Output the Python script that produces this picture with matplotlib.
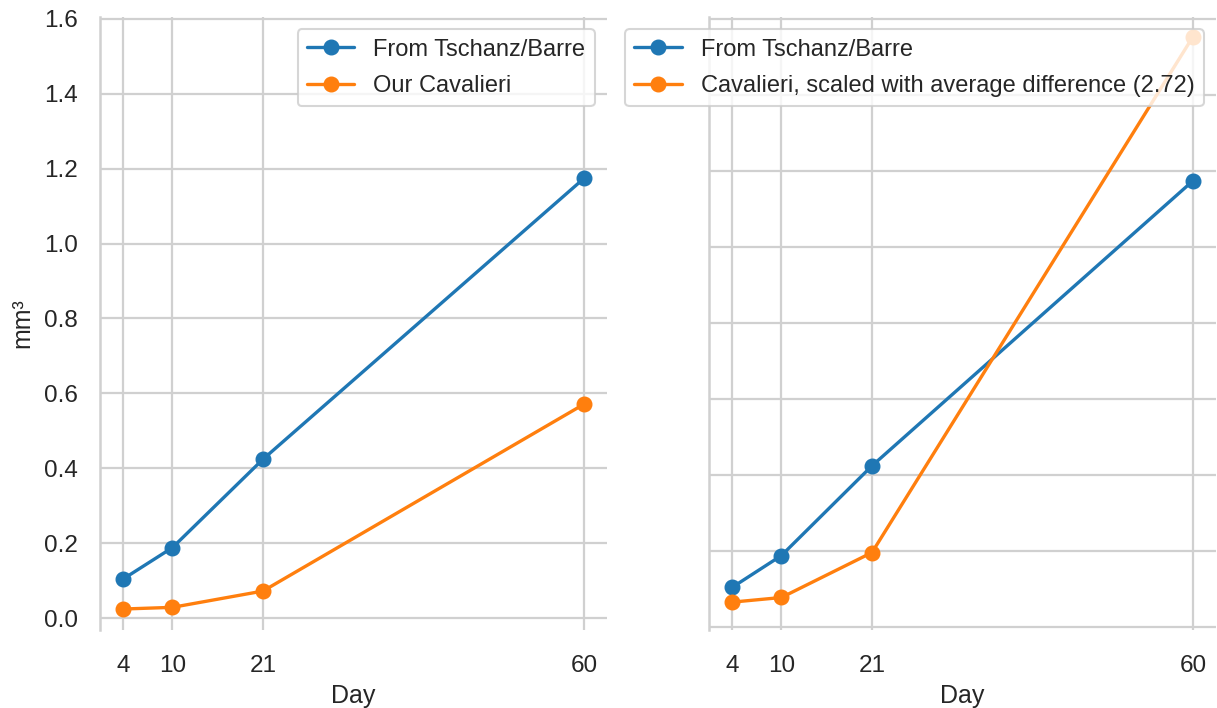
import numpy as np
import matplotlib
matplotlib.use('Agg')
import matplotlib.pyplot as plt
import seaborn as sns

# Volumen über die Zeit: Literaturwerte vs. eigene Cavalieri-Schätzung
days = np.array([4, 10, 21, 60])
tschanz = np.array([0.104, 0.188, 0.424, 1.174])
cavalieri = np.array([0.024, 0.0285, 0.072, 0.571])
avg_diff = 2.72

sns.set_theme(style='whitegrid', context='talk')
plt.rcParams['font.family'] = ['Liberation Sans', 'DejaVu Sans']
plt.rcParams['grid.color'] = '#d0d0d0'
plt.rcParams['axes.edgecolor'] = '#d0d0d0'

fig = plt.figure(figsize=(12.17, 7.08), dpi=100)
ax1 = fig.add_axes([100/1217, 1-630/708, 507/1217, 613/708])
ax2 = fig.add_axes([709/1217, 1-630/708, 507/1217, 613/708])

ax1.plot(days, tschanz, 'o-', color='tab:blue', lw=2.4, ms=10.5, label='From Tschanz/Barre')
ax1.plot(days, cavalieri, 'o-', color='tab:orange', lw=2.4, ms=10.5, label='Our Cavalieri')
ax1.set_ylim(-0.032, 1.605)
ax1.set_yticks(np.arange(0, 1.61, 0.2))
ax1.set_ylabel('mm³', fontsize=18, labelpad=7)

ax2.plot(days, tschanz, 'o-', color='tab:blue', lw=2.4, ms=10.5, label='From Tschanz/Barre')
ax2.plot(days, cavalieri*avg_diff, 'o-', color='tab:orange', lw=2.4, ms=10.5,
         label='Cavalieri, scaled with average difference (%.2f)' % avg_diff)
ax2.set_ylim(-0.008, 1.605)
ax2.set_yticks(np.arange(0, 1.61, 0.2))
ax2.set_yticklabels([])

for ax in (ax1, ax2):
    ax.set_xticks(days)
    ax.set_xlim(1.2, 62.8)
    ax.set_xlabel('Day', fontsize=18, labelpad=5)
    ax.tick_params(axis='x', labelsize=17.5, pad=18, length=0)
    ax.tick_params(axis='y', labelsize=17.5, pad=16, length=0)
    for s in ('top', 'right', 'bottom'):
        ax.spines[s].set_visible(False)
    ax.spines['left'].set_linewidth(1.8)
    ax.grid(True, linewidth=1.6)
    ax.legend(loc='upper right', fontsize=17, framealpha=0.8, borderaxespad=0.52,
              handlelength=2, handletextpad=0.8, labelspacing=0.6)

fig.savefig('out.png', dpi=100)
